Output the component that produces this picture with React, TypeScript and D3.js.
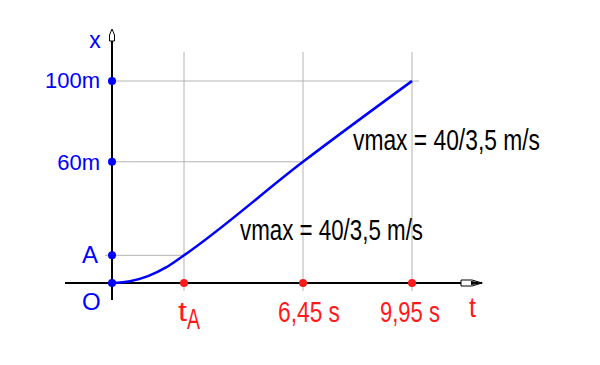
import React from "react";
import * as d3 from "d3";

// Data
const tKnots = [0, 2.4, 6.45, 9.95]; // s (tA ≈ 2.4 s)
const curveT = [0, 0.6, 1.2, 1.8, 2.4, 6.45, 9.95];
const curveX = [0, 0.9, 3.4, 7.7, 13.7, 60, 100];
const xTickValues = [2.4, 6.45, 9.95];
const xTickLabels = ["6,45 s", "9,95 s"];
const yTickValues = [0, 13.7, 60, 100];
const yTickLabels = ["O", "A", "60m", "100m"];
const vmaxLabel = "vmax = 40/3,5 m/s";

const W = 600;
const H = 365;

export default function App() {
  const x = d3.scaleLinear().domain(tKnots).range([112, 184, 303, 412]);
  const y = d3.scaleLinear().domain([0, 100]).range([283, 81]);

  const pts: [number, number][] = curveT.map((t, i) => [t, curveX[i]]);
  const line = d3
    .line<[number, number]>()
    .x((d) => x(d[0]))
    .y((d) => y(d[1]))
    .curve(d3.curveMonotoneX);

  const x0 = x(0);
  const y0 = y(0);
  const grid = "#b4b4b4";
  const blue = "#0000ff";
  const red = "#ff1a1a";
  const narrow = "'Liberation Sans Narrow', 'Arial Narrow', 'Liberation Sans', Arial, sans-serif";
  const sans = "'Liberation Sans', Arial, sans-serif";

  const tA = xTickValues[0];
  const A = yTickValues[1];

  return (
    <svg
      width={W}
      height={H}
      style={{ position: "absolute", left: 0, top: 0, background: "#fff" }}
    >
      {/* vertical grid lines */}
      {xTickValues.map((t) => (
        <line key={"v" + t} x1={x(t)} x2={x(t)} y1={52} y2={291} stroke={grid} strokeWidth={1} />
      ))}
      {/* horizontal grid lines */}
      <line x1={x0} x2={x(9.95) + 7} y1={y(100)} y2={y(100)} stroke={grid} strokeWidth={1} />
      <line x1={x0} x2={x(6.45)} y1={y(60)} y2={y(60)} stroke={grid} strokeWidth={1} />
      <line x1={x0 - 7} x2={x(tA)} y1={y(A)} y2={y(A)} stroke={grid} strokeWidth={1} />

      {/* axes */}
      <line x1={65} x2={482} y1={y0} y2={y0} stroke="#000" strokeWidth={2} />
      <line x1={x0} x2={x0} y1={32} y2={300} stroke="#000" strokeWidth={2} />
      {/* x arrow */}
      <polygon
        points={`461,${y0 - 3} 472,${y0 - 3} 482,${y0} 472,${y0 + 3} 461,${y0 + 3}`}
        fill="#fff"
        stroke="#000"
        strokeWidth={1}
      />
      <polygon points={`471,${y0 - 2} 484,${y0} 471,${y0 + 2}`} fill="#000" />
      {/* y arrow */}
      <polygon
        points={`${x0},29 ${x0 + 2.5},35 ${x0 + 2.5},41 ${x0 - 2.5},41 ${x0 - 2.5},35`}
        fill="#fff"
        stroke="#000"
        strokeWidth={1}
      />

      {/* curve */}
      <path d={line(pts) || ""} fill="none" stroke={blue} strokeWidth={2.5} />

      {/* y dots */}
      {yTickValues.map((v) => (
        <circle key={"yd" + v} cx={x0} cy={y(v)} r={4} fill={blue} />
      ))}
      {/* x dots */}
      {xTickValues.map((t) => (
        <circle key={"xd" + t} cx={x(t)} cy={y0} r={4} fill={red} />
      ))}

      {/* y labels */}
      <text x={100} y={88} fontFamily={sans} fontSize={22} fill={blue} textAnchor="end">
        {yTickLabels[3]}
      </text>
      <text x={100} y={170} fontFamily={sans} fontSize={22} fill={blue} textAnchor="end">
        {yTickLabels[2]}
      </text>
      <text x={82} y={263} fontFamily={sans} fontSize={24} fill={blue}>
        {yTickLabels[1]}
      </text>
      <text x={82} y={310} fontFamily={sans} fontSize={24} fill={blue}>
        {yTickLabels[0]}
      </text>
      <text x={95} y={48} fontFamily={sans} fontSize={23} fill={blue} textAnchor="middle">
        x
      </text>

      {/* x labels */}
      <text x={178} y={321} fontFamily={narrow} fontSize={27} fill={red} textLength={9} lengthAdjust="spacingAndGlyphs">
        t
      </text>
      <text x={187} y={329} fontFamily={narrow} fontSize={29} fill={red} textLength={13} lengthAdjust="spacingAndGlyphs">
        A
      </text>
      <text x={278} y={322} fontFamily={narrow} fontSize={29} fill={red} textLength={62} lengthAdjust="spacingAndGlyphs">
        {xTickLabels[0]}
      </text>
      <text x={380} y={322} fontFamily={narrow} fontSize={29} fill={red} textLength={60} lengthAdjust="spacingAndGlyphs">
        {xTickLabels[1]}
      </text>
      <text x={469} y={317} fontFamily={narrow} fontSize={28} fill={red} textLength={7} lengthAdjust="spacingAndGlyphs">
        t
      </text>

      {/* annotations */}
      <text x={353} y={150} fontFamily={narrow} fontSize={29} fill="#000" textLength={187} lengthAdjust="spacingAndGlyphs">
        {vmaxLabel}
      </text>
      <text x={240} y={240} fontFamily={narrow} fontSize={29} fill="#000" textLength={183} lengthAdjust="spacingAndGlyphs">
        {vmaxLabel}
      </text>
    </svg>
  );
}
